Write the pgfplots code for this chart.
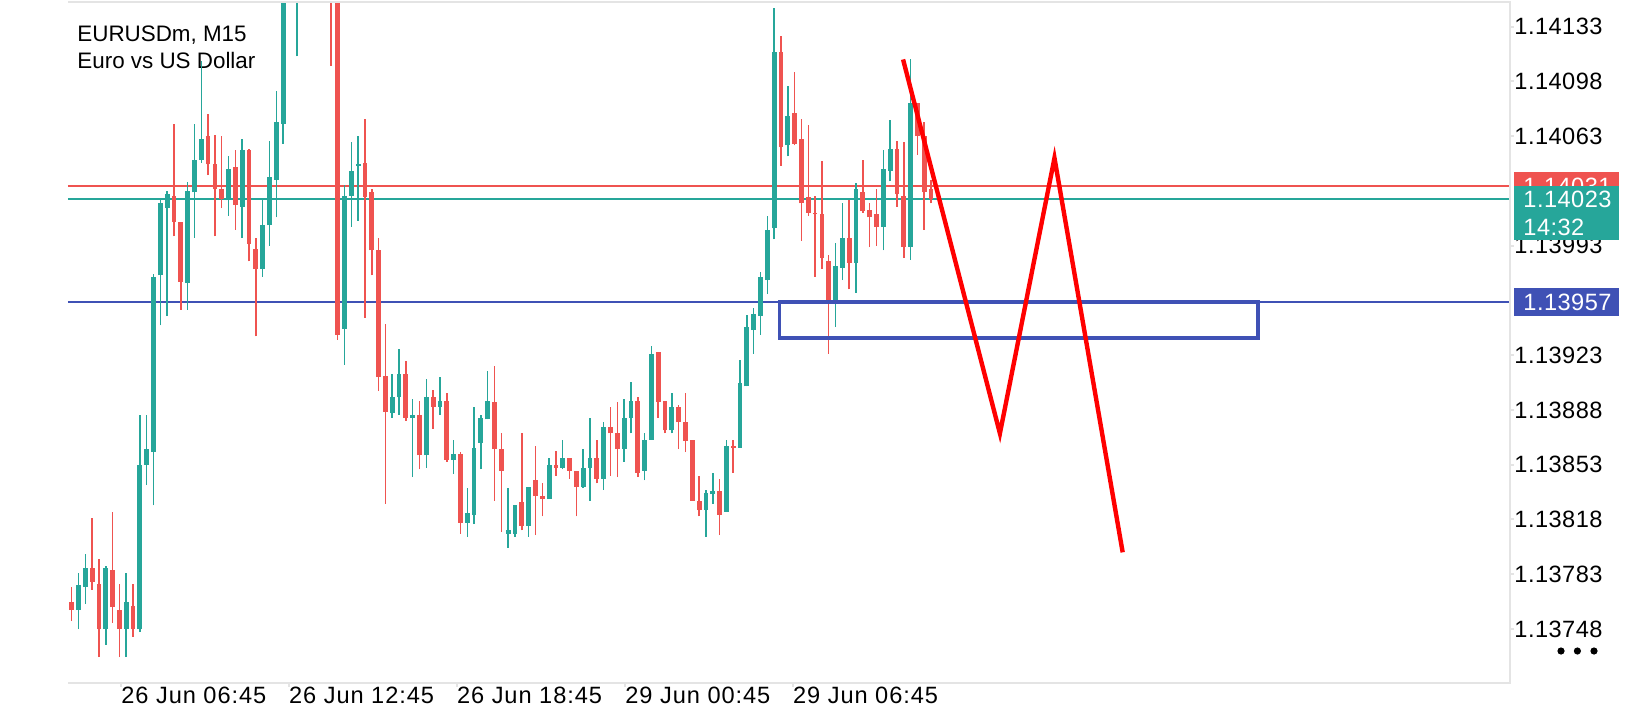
\documentclass[border=0pt]{standalone}
\usepackage{pgfplots}
\pgfplotsset{compat=1.18}
\usepackage{pgfplotstable}
\usepackage{fontspec}
\setmainfont{Liberation Sans}
\definecolor{cG}{RGB}{38,166,154}
\definecolor{cR}{RGB}{239,83,80}
\definecolor{cB}{RGB}{63,81,181}
\definecolor{cFrame}{RGB}{228,228,228}
\definecolor{cZig}{RGB}{255,0,0}

% bullish (green) candles: index, open, high, low, close
\pgfplotstableread{
i o h l c
1 1.13760 1.13784 1.13748 1.13776
2 1.13775 1.13796 1.13764 1.13787
5 1.13748 1.13788 1.13738 1.13787
8 1.13748 1.13784 1.13730 1.13765
10 1.13748 1.13885 1.13746 1.13853
11 1.13853 1.13885 1.13840 1.13863
12 1.13861 1.13975 1.13827 1.13973
13 1.13974 1.14023 1.13942 1.14020
14 1.14017 1.14028 1.13948 1.14026
17 1.13969 1.14034 1.13952 1.14028
18 1.14027 1.14071 1.13998 1.14048
19 1.14048 1.14111 1.14046 1.14061
23 1.14022 1.14050 1.14012 1.14042
25 1.14018 1.14061 1.13998 1.14054
28 1.13978 1.14022 1.13973 1.14006
29 1.14006 1.14060 1.13993 1.14037
30 1.14035 1.14092 1.14011 1.14072
31 1.14071 1.14175 1.14058 1.14160
33 1.14160 1.14190 1.14114 1.14175
40 1.13940 1.14032 1.13917 1.14025
41 1.14025 1.14059 1.14005 1.14041
42 1.14044 1.14063 1.14009 1.14045
47 1.13886 1.13911 1.13883 1.13896
48 1.13896 1.13927 1.13885 1.13911
50 1.13883 1.13895 1.13845 1.13885
52 1.13859 1.13908 1.13851 1.13896
54 1.13890 1.13909 1.13885 1.13894
56 1.13856 1.13869 1.13847 1.13860
58 1.13816 1.13838 1.13807 1.13822
59 1.13821 1.13890 1.13815 1.13864
60 1.13867 1.13885 1.13850 1.13883
61 1.13882 1.13913 1.13882 1.13894
64 1.13809 1.13838 1.13800 1.13811
65 1.13809 1.13827 1.13807 1.13827
67 1.13814 1.13839 1.13807 1.13839
70 1.13831 1.13857 1.13831 1.13853
72 1.13851 1.13869 1.13850 1.13857
75 1.13839 1.13863 1.13838 1.13851
76 1.13851 1.13883 1.13830 1.13857
78 1.13844 1.13880 1.13837 1.13877
81 1.13863 1.13895 1.13855 1.13883
82 1.13883 1.13906 1.13873 1.13894
84 1.13849 1.13873 1.13843 1.13869
85 1.13869 1.13929 1.13869 1.13924
88 1.13875 1.13899 1.13873 1.13890
93 1.13824 1.13837 1.13807 1.13835
94 1.13834 1.13848 1.13828 1.13836
96 1.13823 1.13869 1.13823 1.13865
98 1.13864 1.13920 1.13864 1.13905
99 1.13903 1.13949 1.13903 1.13941
100 1.13939 1.13953 1.13924 1.13949
101 1.13948 1.13976 1.13936 1.13973
102 1.13971 1.14012 1.13962 1.14003
103 1.14004 1.14145 1.13997 1.14117
105 1.14057 1.14095 1.14050 1.14076
112 1.13957 1.13995 1.13941 1.13980
113 1.13979 1.14020 1.13971 1.13998
115 1.13982 1.14033 1.13963 1.14029
119 1.14005 1.14054 1.13990 1.14042
120 1.14041 1.14073 1.14034 1.14055
123 1.13992 1.14112 1.13984 1.14084
}\bull

% bearish (red) candles: index, open, high, low, close
\pgfplotstableread{
i o h l c
0 1.13765 1.13775 1.13753 1.13760
3 1.13787 1.13819 1.13773 1.13778
4 1.13777 1.13793 1.13730 1.13748
6 1.13786 1.13823 1.13752 1.13762
7 1.13760 1.13777 1.13730 1.13748
9 1.13763 1.13777 1.13743 1.13748
15 1.14025 1.14071 1.13999 1.14008
16 1.14008 1.14008 1.13952 1.13970
20 1.14063 1.14077 1.14038 1.14045
21 1.14045 1.14064 1.13999 1.14029
22 1.14029 1.14063 1.14017 1.14023
24 1.14043 1.14054 1.14003 1.14019
26 1.14054 1.14055 1.13983 1.13994
27 1.13991 1.13998 1.13935 1.13978
38 1.14175 1.14185 1.14108 1.14160
39 1.14160 1.14170 1.13933 1.13936
43 1.14046 1.14074 1.13947 1.14024
44 1.14027 1.14029 1.13974 1.13990
45 1.13990 1.13998 1.13900 1.13909
46 1.13910 1.13943 1.13828 1.13887
49 1.13911 1.13919 1.13881 1.13883
51 1.13885 1.13894 1.13850 1.13859
53 1.13896 1.13901 1.13876 1.13890
55 1.13894 1.13899 1.13855 1.13856
57 1.13860 1.13861 1.13809 1.13816
62 1.13893 1.13916 1.13830 1.13863
63 1.13863 1.13873 1.13810 1.13849
66 1.13829 1.13873 1.13811 1.13814
68 1.13843 1.13865 1.13808 1.13833
69 1.13833 1.13841 1.13820 1.13831
71 1.13853 1.13862 1.13846 1.13851
73 1.13857 1.13857 1.13844 1.13849
74 1.13849 1.13849 1.13820 1.13839
77 1.13857 1.13869 1.13841 1.13844
79 1.13877 1.13890 1.13846 1.13873
80 1.13873 1.13893 1.13845 1.13863
83 1.13894 1.13896 1.13845 1.13848
86 1.13925 1.13925 1.13883 1.13893
87 1.13894 1.13894 1.13873 1.13875
89 1.13890 1.13891 1.13863 1.13880
90 1.13880 1.13899 1.13861 1.13868
91 1.13869 1.13869 1.13830 1.13830
92 1.13830 1.13846 1.13820 1.13824
95 1.13836 1.13844 1.13808 1.13821
97 1.13865 1.13869 1.13848 1.13864
104 1.14117 1.14127 1.14044 1.14056
106 1.14078 1.14104 1.14057 1.14058
107 1.14061 1.14074 1.13996 1.14020
108 1.14024 1.14070 1.14012 1.14014
109 1.14014 1.14025 1.13973 1.14013
110 1.14013 1.14047 1.13978 1.13985
111 1.13983 1.13987 1.13924 1.13957
114 1.13998 1.14022 1.13965 1.13982
116 1.14027 1.14048 1.14014 1.14015
117 1.14016 1.14020 1.13992 1.14011
118 1.14013 1.14029 1.13993 1.14005
121 1.14055 1.14060 1.14018 1.14026
122 1.14025 1.14059 1.13985 1.13992
124 1.14084 1.14084 1.14051 1.14063
125 1.14063 1.14072 1.14003 1.14027
126 1.14029 1.14035 1.14020 1.14023
}\bear

\begin{document}
\begin{tikzpicture}[x=1pt,y=1pt]
\useasboundingbox (0,0) rectangle (820,360);
\node[anchor=base west, inner sep=0pt, font=\fontsize{11.2}{13}\selectfont] at (38.5,339.15) {EURUSDm, M15};
\node[anchor=base west, inner sep=0pt, font=\fontsize{11.2}{13}\selectfont] at (38.5,325.85) {Euro vs US Dollar};
\begin{axis}[
  at={(34pt,18.5pt)}, anchor=south west, scale only axis,
  width=721pt, height=340.5pt,
  xmin=-0.54, xmax=210.89, ymin=1.137135, ymax=1.141487,
  axis line style={draw=none},
  xtick pos=left, ytick pos=right,
  xticklabel pos=left, yticklabel pos=right,
  tick align=outside, major tick length=2pt,
  tick style={draw=cFrame, line width=1pt},
  xtick={7.23,31.82,56.45,81.13,105.72},
  xticklabels={26 Jun 06:45,26 Jun 12:45,26 Jun 18:45,29 Jun 00:45,29 Jun 06:45},
  ytick={1.13748,1.13783,1.13818,1.13853,1.13888,1.13923,1.13993,1.14063,1.14098,1.14133},
  yticklabels={1.13748,1.13783,1.13818,1.13853,1.13888,1.13923,1.13993,1.14063,1.14098,1.14133},
  xticklabel style={anchor=north west, inner sep=0pt, font=\fontsize{11.8}{14}\selectfont\addfontfeatures{LetterSpace=4}},
  yticklabel style={anchor=west, inner sep=0pt, font=\fontsize{11.8}{14}\selectfont\addfontfeatures{LetterSpace=2}},
]
% price lines
\addplot[forget plot, cR, line width=0.95pt] coordinates {(-0.54,1.14031) (210.89,1.14031)};
\addplot[forget plot, cG, line width=0.95pt] coordinates {(-0.54,1.14023) (210.89,1.14023)};
\addplot[forget plot, cB, line width=0.95pt] coordinates {(-0.54,1.13957) (210.89,1.13957)};
% wicks
\addplot[forget plot, draw=none, mark=none, error bars/.cd, y dir=plus, y explicit, error mark=none,
  error bar style={draw=cG, line width=0.75pt}]
  table[x=i, y=l, y error plus expr=\thisrow{h}-\thisrow{l}] {\bull};
\addplot[forget plot, draw=none, mark=none, error bars/.cd, y dir=plus, y explicit, error mark=none,
  error bar style={draw=cR, line width=0.75pt}]
  table[x=i, y=l, y error plus expr=\thisrow{h}-\thisrow{l}] {\bear};
% bodies
\addplot[forget plot, draw=none, mark=none, error bars/.cd, y dir=plus, y explicit, error mark=none,
  error bar style={draw=cG, line width=2.4pt}]
  table[x=i, y=o, y error plus expr=\thisrow{c}-\thisrow{o}] {\bull};
\addplot[forget plot, draw=none, mark=none, error bars/.cd, y dir=plus, y explicit, error mark=none,
  error bar style={draw=cR, line width=2.4pt}]
  table[x=i, y=c, y error plus expr=\thisrow{o}-\thisrow{c}] {\bear};
% drawn zone and zigzag
\addplot[forget plot, cB, line width=1.6pt] coordinates {(140,1.13957) (173.95,1.13957) (173.95,1.13934) (103.8,1.13934) (103.8,1.13957) (140,1.13957)};
\addplot[forget plot, cZig, line width=2.2pt] coordinates {(121.9,1.14112) (136.1,1.13873) (144.1,1.14049) (154.1,1.13797)};
\end{axis}
% frame
\draw[cFrame, line width=1.3pt] (34,359) -- (755,359) -- (755,18.5) -- (34,18.5);
% price labels
\fill[cR] (757,259.5) rectangle (809.5,274);
\node[anchor=west, inner sep=0pt, text=white, font=\fontsize{11.8}{14}\selectfont\addfontfeatures{LetterSpace=2}] at (761.5,266.8) {1.14031};
\fill[cG] (757,240) rectangle (809.5,267);
\node[anchor=west, inner sep=0pt, text=white, font=\fontsize{11.8}{14}\selectfont\addfontfeatures{LetterSpace=2}] at (761.5,260.4) {1.14023};
\node[anchor=base west, inner sep=0pt, text=white, font=\fontsize{11.8}{14}\selectfont\addfontfeatures{LetterSpace=2}] at (761.5,242.5) {14:32};
\fill[cB] (757,202) rectangle (809.5,216);
\node[anchor=west, inner sep=0pt, text=white, font=\fontsize{11.8}{14}\selectfont\addfontfeatures{LetterSpace=2}] at (761.5,208.8) {1.13957};
% menu dots
\fill[black] (780.5,34.5) circle (1.8);
\fill[black] (788.7,34.5) circle (1.8);
\fill[black] (797,34.5) circle (1.8);
\end{tikzpicture}
\end{document}
